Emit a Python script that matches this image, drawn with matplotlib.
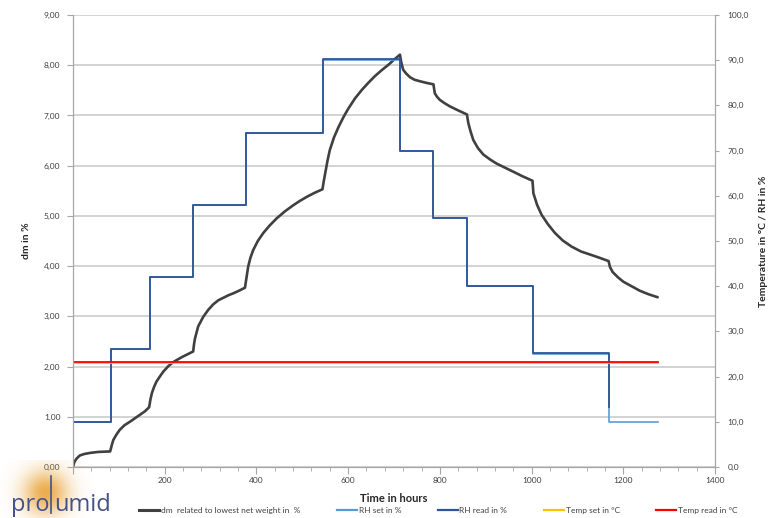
import numpy as np
import matplotlib
matplotlib.use("Agg")
from matplotlib import pyplot as plt
from matplotlib.ticker import FuncFormatter, MultipleLocator
from matplotlib.lines import Line2D

plt.rcParams['font.family'] = ['Lato', 'DejaVu Sans']

# dm related to lowest net weight (%)
dm_t = [0, 3, 8, 15, 25, 37, 55, 81, 85, 88, 95, 102, 112, 124, 135, 146, 157, 166,
        169, 172, 177, 182, 190, 197, 208, 219, 230, 240, 251, 262,
        264, 266, 273, 284, 295, 306, 317, 328, 339, 350, 362, 375,
        378, 382, 387, 393, 403, 415, 429, 444, 462, 480, 495, 510, 527, 544,
        547, 550, 555, 560, 569, 579, 590, 600, 615, 630, 644, 658, 673, 688, 700, 713,
        716, 720, 727, 735, 745, 757, 770, 786,
        789, 794, 800, 811, 822, 840, 859,
        862, 867, 873, 883, 895, 910, 924, 942, 960, 980, 1002,
        1004, 1012, 1022, 1036, 1051, 1068, 1087, 1108, 1131, 1150, 1168,
        1171, 1177, 1188, 1200, 1218, 1236, 1255, 1275]
dm_v = [0.00, 0.10, 0.17, 0.23, 0.26, 0.28, 0.30, 0.31, 0.45, 0.54, 0.65, 0.74, 0.83, 0.90, 0.97, 1.04, 1.11, 1.19,
        1.35, 1.47, 1.60, 1.70, 1.81, 1.90, 2.01, 2.09, 2.15, 2.20, 2.25, 2.30,
        2.45, 2.56, 2.80, 2.99, 3.13, 3.24, 3.32, 3.37, 3.42, 3.46, 3.51, 3.57,
        3.75, 3.99, 4.17, 4.32, 4.50, 4.66, 4.81, 4.95, 5.09, 5.21, 5.30, 5.38, 5.46, 5.53,
        5.70, 5.85, 6.10, 6.31, 6.56, 6.77, 6.97, 7.13, 7.34, 7.51, 7.65, 7.78, 7.90, 8.01, 8.11, 8.21,
        8.05, 7.91, 7.83, 7.76, 7.71, 7.68, 7.65, 7.62,
        7.44, 7.37, 7.31, 7.24, 7.18, 7.10, 7.02,
        6.85, 6.68, 6.51, 6.35, 6.22, 6.12, 6.04, 5.96, 5.88, 5.79, 5.70,
        5.45, 5.22, 5.02, 4.83, 4.66, 4.51, 4.39, 4.29, 4.22, 4.16, 4.10,
        3.98, 3.88, 3.78, 3.69, 3.60, 3.51, 3.44, 3.38]

# relative humidity set point (%), step changes
rh_set_t = [0, 82, 167, 262, 377, 546, 713, 786, 859, 1003, 1168, 1275]
rh_set_v = [10, 26, 42, 58, 74, 90, 70, 55, 40, 25, 10, 10]

# relative humidity reading (%)
rh_read_t = [0, 1, 82, 167, 262, 377, 546, 713, 786, 859, 1003, 1168, 1168]
rh_read_v = [13.5, 10, 26, 42, 58, 74, 90.2, 70, 55, 40, 25.2, 25.2, 13.3]

# temperature (°C)
temp_t = [0, 1275]
temp_set_v = [23.0, 23.0]
temp_read_v = [23.2, 23.2]

labels = ['dm  related to lowest net weight in  %', 'RH set in %', 'RH read in %',
          'Temp set in °C', 'Temp read in °C']
colors = ['#404040', '#5b9bd5', '#2f5597', '#ffc000', '#ff0000']

fig = plt.figure(figsize=(7.69, 5.18), dpi=100)
ax = fig.add_axes([73 / 769, 1 - 467 / 518, (715 - 73) / 769, (467 - 15) / 518])
ax2 = ax.twinx()

ax.plot(dm_t, dm_v, color=colors[0], lw=1.9, solid_joinstyle='round', solid_capstyle='round')
ax2.step(rh_set_t, rh_set_v, where='post', color=colors[1], lw=1.2)
ax2.step(rh_read_t, rh_read_v, where='post', color=colors[2], lw=1.3)
ax2.plot(temp_t, temp_set_v, color=colors[3], lw=1.2)
ax2.plot(temp_t, temp_read_v, color=colors[4], lw=1.3)

ax.set_xlim(0, 1400)
ax.set_ylim(0, 9)
ax2.set_ylim(0, 100)
ax.xaxis.set_major_locator(MultipleLocator(200))
ax.xaxis.set_minor_locator(MultipleLocator(40))
ax.yaxis.set_major_locator(MultipleLocator(1))
ax2.yaxis.set_major_locator(MultipleLocator(10))

ax.xaxis.set_major_formatter(FuncFormatter(lambda v, p: '' if v == 0 else '%d' % v))
ax.yaxis.set_major_formatter(FuncFormatter(lambda v, p: ('%.2f' % v).replace('.', ',')))
ax2.yaxis.set_major_formatter(FuncFormatter(lambda v, p: ('%.1f' % v).replace('.', ',')))

ax.grid(True, axis='y', color='#c8c8c8', lw=1.1)
ax.set_axisbelow(True)

for a in (ax, ax2):
    for s in a.spines.values():
        s.set_color('#a6a6a6')
    a.spines['top'].set_visible(False)
ax.tick_params(axis='y', which='major', labelsize=6, colors='#a6a6a6', labelcolor='#404040',
               direction='out', length=4, pad=5)
ax.tick_params(axis='x', which='major', labelsize=6, colors='#a6a6a6', labelcolor='#404040',
               direction='out', length=5, pad=2)
ax.tick_params(axis='x', which='minor', colors='#a6a6a6', direction='out', length=3)
ax2.tick_params(axis='y', labelsize=6, colors='#a6a6a6', labelcolor='#404040',
                direction='out', length=3, pad=6)

ax.set_ylabel('dm in %', fontsize=7.5, fontweight='bold', color='#262626')
ax.yaxis.set_label_coords(-0.066, 0.5)
ax2.set_ylabel('Temperature in °C / RH in %', fontsize=7.5, fontweight='bold', color='#262626')
ax2.yaxis.set_label_coords(1.068, 0.5)
ax.set_xlabel('Time in hours', fontsize=8, fontweight='bold', color='#262626')
ax.xaxis.set_label_coords(0.5, -0.058)

handles = [Line2D([], [], color=colors[0], lw=2.2)] + \
          [Line2D([], [], color=c, lw=1.6) for c in colors[1:]]
fig.legend(handles, labels, loc='center', bbox_to_anchor=(0.57, 0.014), ncol=5,
           frameon=False, fontsize=6, handlelength=2.4, handletextpad=0.2,
           columnspacing=4.4, labelcolor='#404040')

# logo
lx = fig.add_axes([0, 0, 100 / 769, 58 / 518])
lx.set_axis_off()
gy, gx = np.mgrid[0:58, 0:100]
blob = np.exp(-(((gx - 45) / 22.0) ** 2 + ((gy - 32) / 22.0) ** 2))
rgba = np.zeros((58, 100, 4))
rgba[..., 0] = 0.91
rgba[..., 1] = 0.62
rgba[..., 2] = 0.18
rgba[..., 3] = 0.85 * blob
lx.imshow(rgba, extent=(0, 100, 0, 58), origin='upper', aspect='auto')
lx.set_xlim(0, 100)
lx.set_ylim(0, 58)
lx.text(11, 7, 'pro', fontsize=17, color='#45528a', family='Open Sans', va='baseline')
lx.text(54, 7, 'umid', fontsize=17, color='#45528a', family='Open Sans', va='baseline')
lx.plot([50.5, 50.5], [5, 42], color='#45528a', lw=1.2)

fig.savefig('out.png', dpi=100)
